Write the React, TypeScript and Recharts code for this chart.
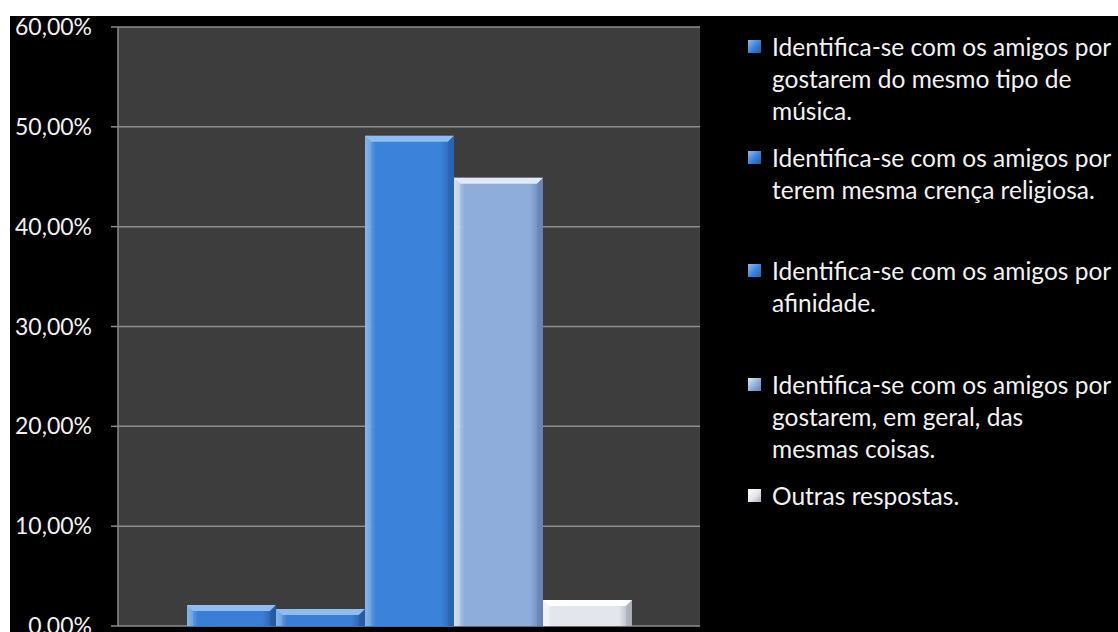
import React from "react";
import { BarChart, Bar, XAxis, YAxis, CartesianGrid } from "recharts";

const seriesNames = [
  "Identifica-se com os amigos por gostarem do mesmo tipo de música.",
  "Identifica-se com os amigos por terem mesma crença religiosa.",
  "Identifica-se com os amigos por afinidade.",
  "Identifica-se com os amigos por gostarem, em geral, das mesmas coisas.",
  "Outras respostas.",
];

// legend line breaks as in the picture
const legendLines = [
  ["Identifica-se com os amigos por", "gostarem do mesmo tipo de", "música."],
  ["Identifica-se com os amigos por", "terem mesma crença religiosa."],
  ["Identifica-se com os amigos por", "afinidade."],
  ["Identifica-se com os amigos por", "gostarem, em geral, das", "mesmas coisas."],
  ["Outras respostas."],
];

const seriesValues = [2.1, 1.7, 49.1, 44.9, 2.6];
const yTicks = [0, 10, 20, 30, 40, 50, 60];

const data = [
  seriesValues.reduce<Record<string, number | string>>(
    (row, v, i) => {
      row[`s${i}`] = v;
      return row;
    },
    { name: "" }
  ),
];

const palette = [
  { base: "#3a7fd6", light: "#8dbdf3", dark: "#25589e" },
  { base: "#3a7fd6", light: "#8dbdf3", dark: "#25589e" },
  { base: "#3b82da", light: "#8dbdf3", dark: "#2a62ad" },
  { base: "#8eaddb", light: "#dfeafa", dark: "#6683b3" },
  { base: "#e3e6ec", light: "#ffffff", dark: "#a9adb6" },
];

const FONT = "Lato, 'Open Sans', sans-serif";

function fmtPct(v: number): string {
  return `${v.toFixed(2).replace(".", ",")}%`;
}

function bevelShape(i: number) {
  return (props: any) => {
    const { x, y, width, height } = props;
    if (!height || height <= 0) return <g />;
    const c = palette[i];
    const b = Math.min(6, height / 2);
    return (
      <g>
        <rect x={x} y={y} width={width} height={height} fill={`url(#body${i})`} />
        <polygon
          points={`${x},${y} ${x + width},${y} ${x + width - b},${y + b} ${x + b},${y + b}`}
          fill={c.light}
        />
        <polygon
          points={`${x},${y} ${x + b},${y + b} ${x + b},${y + height} ${x},${y + height}`}
          fill={c.light}
          opacity={0.35}
        />
        <polygon
          points={`${x + width},${y} ${x + width - b},${y + b} ${x + width - b},${y + height} ${x + width},${y + height}`}
          fill={c.dark}
          opacity={0.6}
        />
      </g>
    );
  };
}

function LegendBox() {
  const tops = [15, 126, 239, 353, 464];
  return (
    <div style={{ position: "absolute", left: 738, top: 0, width: 370, height: 616 }}>
      {legendLines.map((lines, i) => (
        <div
          key={seriesNames[i]}
          style={{
            position: "absolute",
            top: tops[i],
            left: 0,
            display: "flex",
            alignItems: "flex-start",
            fontFamily: FONT,
            fontSize: 24.5,
            lineHeight: "32px",
            color: "#f2f2f2",
            whiteSpace: "nowrap",
          }}
        >
          <span
            style={{
              display: "inline-block",
              width: 13,
              height: 13,
              marginTop: 9,
              marginRight: 11,
              background: `linear-gradient(135deg, ${palette[i].light}, ${palette[i].base} 55%, ${palette[i].dark})`,
            }}
          />
          <div>
            {lines.map((l) => (
              <div key={l}>{l}</div>
            ))}
          </div>
        </div>
      ))}
    </div>
  );
}

export default function App() {
  return (
    <div
      style={{
        position: "fixed",
        left: 10,
        top: 16,
        width: 1108,
        height: 616,
        background: "#000",
        overflow: "hidden",
      }}
    >
      <BarChart
        width={1108}
        height={616}
        data={data}
        margin={{ top: 11, right: 418, bottom: 6, left: 0 }}
        barCategoryGap={69}
        barGap={0}
      >
        <defs>
          {palette.map((c, i) => (
            <linearGradient key={i} id={`body${i}`} x1="0" y1="0" x2="1" y2="0">
              <stop offset="0%" stopColor={c.light} stopOpacity={0.9} />
              <stop offset="12%" stopColor={c.base} />
              <stop offset="85%" stopColor={c.base} />
              <stop offset="100%" stopColor={c.dark} />
            </linearGradient>
          ))}
        </defs>
        <CartesianGrid
          vertical={false}
          stroke="#8e8e8e"
          strokeWidth={1.5}
          fill="#3d3d3d"
          fillOpacity={1}
        />
        <XAxis dataKey="name" hide />
        <YAxis
          width={108}
          domain={[0, 60]}
          ticks={yTicks}
          tickFormatter={fmtPct}
          axisLine={{ stroke: "#8a8a8a", strokeWidth: 1.5 }}
          tickLine={{ stroke: "#8a8a8a", strokeWidth: 1.5 }}
          tickSize={7}
          tickMargin={19}
          tick={{ fill: "#f2f2f2", fontSize: 23, fontFamily: FONT }}
          interval={0}
        />
        {seriesNames.map((n, i) => (
          <Bar
            key={n}
            dataKey={`s${i}`}
            name={n}
            fill={palette[i].base}
            shape={bevelShape(i)}
            isAnimationActive={false}
          />
        ))}
      </BarChart>
      <LegendBox />
    </div>
  );
}
